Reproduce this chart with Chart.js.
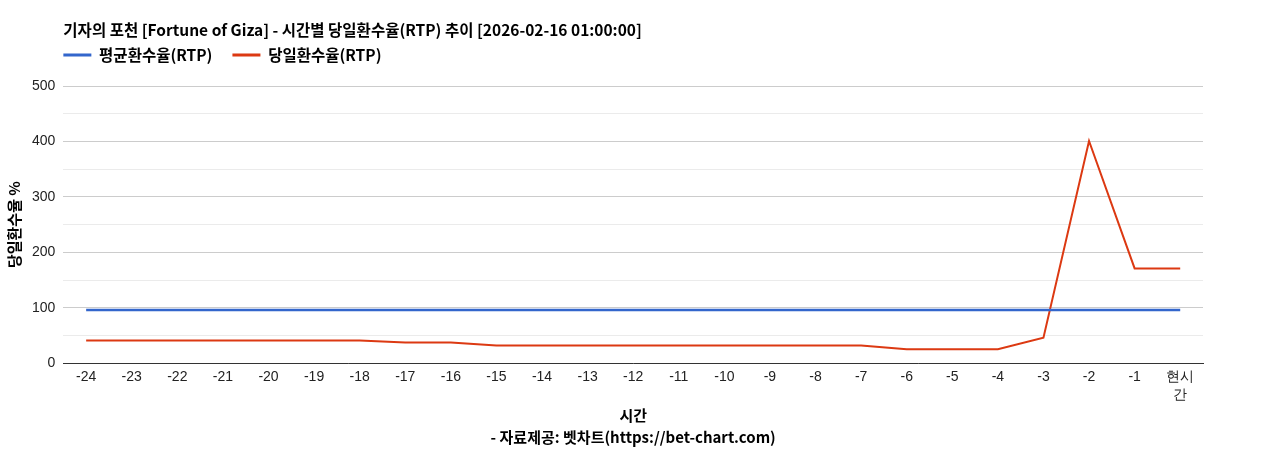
<!DOCTYPE html>
<html>
<head>
<meta charset="utf-8">
<script src="https://cdn.jsdelivr.net/npm/chart.js@4/dist/chart.umd.min.js"></script>
<style>
html,body{margin:0;padding:0;background:#fff;}
#wrap{width:1268px;height:450px;position:relative;}
</style>
</head>
<body>
<div id="wrap"><canvas id="c" width="1268" height="450"></canvas></div>
<script>
const categories = ['-24','-23','-22','-21','-20','-19','-18','-17','-16','-15','-14','-13','-12','-11','-10','-9','-8','-7','-6','-5','-4','-3','-2','-1',['현시','간']];
const avgRtp = [96,96,96,96,96,96,96,96,96,96,96,96,96,96,96,96,96,96,96,96,96,96,96,96,96];
const dailyRtp = [41,41,41,41,41,41,41,37,37,32,32,32,32,32,32,32,32,32,25,25,25,46,401,171,171];
const yTicks = [0,100,200,300,400,500];
const titleText = '기자의 포천 [Fortune of Giza] - 시간별 당일환수율(RTP) 추이 [2026-02-16 01:00:00]';
const xTitleText = ['시간', '- 자료제공: 벳차트(https://bet-chart.com)'];
const yTitleText = '당일환수율 %';

const KR = '"Noto Sans CJK KR", "Noto Sans", sans-serif';
const AR = '"Liberation Sans", Arial, sans-serif';
const LEGEND_PAD = 20;
const LEGEND_FONT = 15.5;

// place the title and legend in line with the plot's left edge, as in the reference
const alignHeader = {
  id: 'alignHeader',
  afterLayout(chart) {
    const left = chart.chartArea.left;
    if (chart.titleBlock) chart.titleBlock.left = left;
    if (chart.legend) {
      chart.legend.left = left - LEGEND_PAD;
      chart.legend.top = 55 - LEGEND_PAD - LEGEND_FONT / 2;
    }
  }
};

new Chart(document.getElementById('c'), {
  type: 'line',
  data: {
    labels: categories,
    datasets: [
      {label: '평균환수율(RTP)', data: avgRtp, borderColor: '#3366cc', backgroundColor: '#3366cc', borderWidth: 2.5, pointRadius: 0, tension: 0},
      {label: '당일환수율(RTP)', data: dailyRtp, borderColor: '#dc3912', backgroundColor: '#dc3912', borderWidth: 2, pointRadius: 0, tension: 0}
    ]
  },
  plugins: [alignHeader],
  options: {
    responsive: false,
    animation: false,
    layout: {padding: {left: 5, right: 65, top: 0, bottom: 0}},
    plugins: {
      tooltip: {enabled: false},
      title: {
        display: true, text: titleText, align: 'start', color: '#000',
        font: {family: KR, size: 15.5, weight: 'bold'}, padding: {top: 21, bottom: 1}
      },
      legend: {
        display: true, position: 'top', align: 'start',
        labels: {
          color: '#000', font: {family: KR, size: LEGEND_FONT, weight: 'bold'},
          boxWidth: 28, boxHeight: 3, padding: LEGEND_PAD,
          generateLabels: (chart) => Chart.defaults.plugins.legend.labels.generateLabels(chart).map(l => Object.assign(l, {lineWidth: 0}))
        }
      }
    },
    scales: {
      x: {
        offset: true,
        grid: {display: false, drawTicks: false},
        border: {display: true, color: '#333', width: 1},
        ticks: {color: '#222', font: {family: AR, size: 14, lineHeight: 1.3}, maxRotation: 0, autoSkip: false, padding: 5},
        title: {display: true, text: xTitleText, color: '#000', font: {family: KR, size: 15, weight: 'bold', lineHeight: 1.466}, padding: {top: -5.5, bottom: 2}}
      },
      y: {
        min: 0, max: 500,
        afterBuildTicks: (s) => { const t = []; for (let v = 0; v <= 500; v += 50) t.push({value: v}); s.ticks = t; },
        grid: {
          color: (ctx) => (ctx.tick && ctx.tick.value % 100 === 0) ? '#cccccc' : '#ebebeb',
          drawTicks: false, lineWidth: 1
        },
        border: {display: false},
        ticks: {
          color: '#222', font: {family: AR, size: 14}, padding: 8,
          callback: (v) => yTicks.includes(v) ? String(v) : ''
        },
        title: {display: true, text: yTitleText, color: '#000', font: {family: KR, size: 15, weight: 'bold'}, padding: {top: 0, bottom: 1}}
      }
    }
  }
});
</script>
</body>
</html>
